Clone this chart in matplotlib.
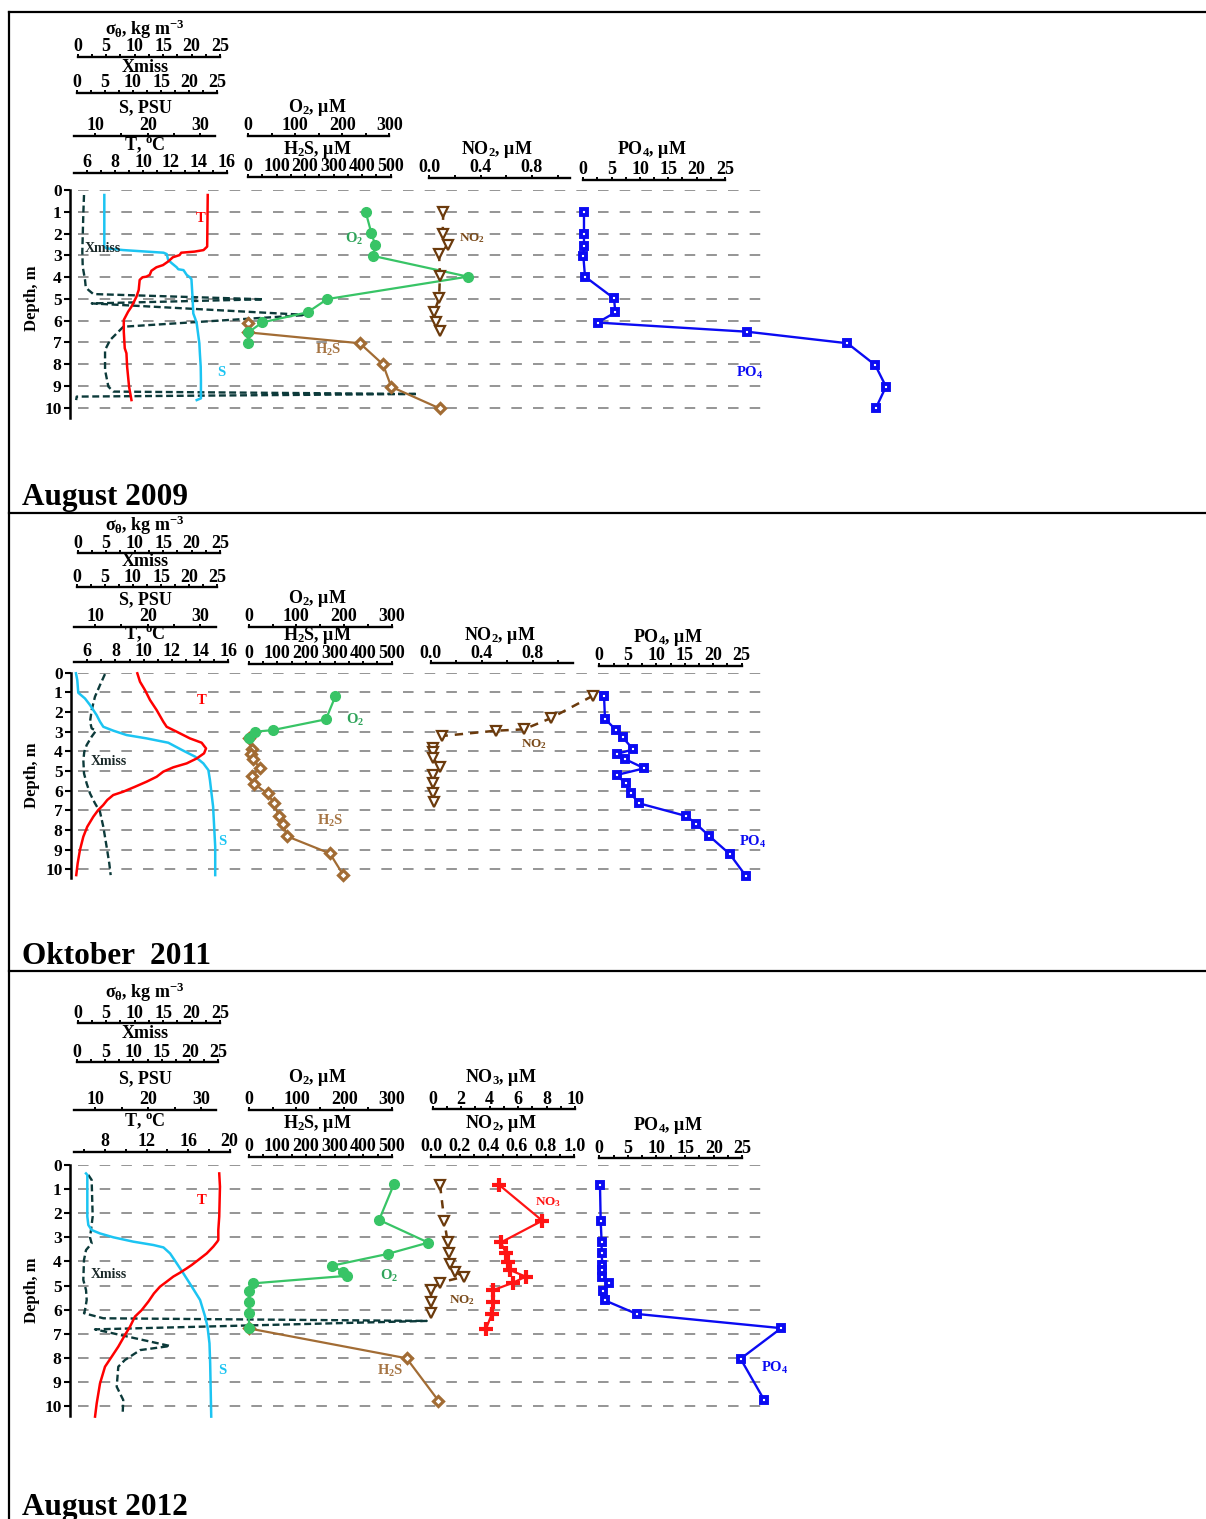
import matplotlib
matplotlib.use('Agg')
import matplotlib.pyplot as plt
import numpy as np

plt.rcParams['font.family'] = ['Liberation Serif', 'DejaVu Serif']
plt.rcParams['font.weight'] = 'bold'
plt.rcParams['mathtext.fontset'] = 'custom'
plt.rcParams['mathtext.rm'] = 'Liberation Serif:bold'
plt.rcParams['mathtext.it'] = 'Liberation Serif:bold'
plt.rcParams['mathtext.bf'] = 'Liberation Serif:bold'
plt.rcParams['mathtext.sf'] = 'Liberation Serif:bold'
plt.rcParams['lines.scale_dashes'] = False

# ---------------- DATA (depth in m, values in the units of each scale) ----------------
# August 2009
T1_depth = [0.23, 2.60, 2.76, 2.83, 2.88, 2.99, 3.09, 3.29, 3.45, 3.55, 3.71, 3.90, 3.98, 4.01,
            4.13, 4.59, 4.90, 5.21, 5.36, 5.59, 5.97, 6.51, 7.27, 7.50, 8.12, 9.04, 9.65]
T1_val = [14.64, 14.60, 14.34, 13.69, 12.74, 12.62, 12.14, 11.79, 11.43, 10.96, 10.60, 10.48, 10.24, 9.96,
          9.76, 9.69, 9.53, 9.29, 9.17, 8.93, 8.62, 8.62, 8.69, 8.81, 8.86, 9.00, 9.17]
S1_depth = [0.23, 2.60, 2.68, 2.76, 2.83, 2.88, 2.94, 3.22, 3.37, 3.55, 3.64, 3.68, 3.90, 4.01,
            4.10, 4.90, 5.67, 5.90, 6.13, 7.04, 7.50, 8.12, 8.73, 9.57, 9.65]
S1_val = [11.77, 11.77, 12.2, 15.4, 19.8, 23.0, 23.6, 23.9, 24.6, 25.5, 25.8, 26.8, 27.4, 28.0,
          28.3, 28.5, 28.65, 29.0, 29.3, 29.8, 29.9, 30.06, 30.1, 30.1, 29.3]
X1_depth = [0.23, 1.07, 2.83, 3.52, 4.13, 4.44, 4.59, 4.78, 5.02, 5.21, 5.74, 6.28, 6.89, 7.35,
            8.27, 9.03, 9.26, 9.37, 9.49, 9.65]
X1_val = [1.3, 1.18, 1.0, 1.07, 1.48, 1.6, 2.07, 2.96, 33.2, 2.67, 41.0, 8.3, 5.94, 5.04,
          5.04, 5.63, 6.52, 60.6, 0.0, -0.1]
O2_1_depth = [1.03, 1.99, 2.53, 3.03, 3.98, 5.01, 5.62, 6.08, 6.54, 7.04]
O2_1_val = [250, 262, 270, 266, 467, 168, 126, 30, 0, 0]
H2S_1_depth = [6.09, 6.54, 7.04, 8.01, 9.04, 10.03]
H2S_1_val = [0, 0, 392, 473, 502, 671]
NO2_1_depth = [0.99, 2.02, 2.53, 2.94, 3.94, 4.98, 5.59, 6.08, 6.48]
NO2_1_val = [0.109, 0.104, 0.143, 0.076, 0.083, 0.076, 0.039, 0.05, 0.083]
PO4_1_depth = [1.03, 2.02, 2.56, 3.02, 3.98, 4.98, 5.62, 6.09, 6.51, 7.04, 8.04, 9.03, 10.03]
PO4_1_val = [0.12, 0.12, 0.12, 0.0, 0.3, 5.42, 5.65, 2.54, 28.9, 46.6, 51.5, 53.4, 51.6]

# Oktober 2011
T2_depth = [0.03, 0.46, 0.88, 1.39, 1.90, 2.49, 2.75, 3.00, 3.34, 3.56, 3.85, 4.10, 4.36, 4.61, 4.81,
            5.03, 5.29, 5.54, 5.80, 6.05, 6.22, 6.47, 6.73, 6.98, 7.32, 7.83, 8.34, 9.02, 9.69, 10.29]
T2_val = [9.55, 9.74, 10.09, 10.45, 10.92, 11.39, 11.63, 12.34, 13.28, 14.11, 14.42, 14.28, 13.76, 13.05, 12.10,
          11.39, 10.92, 10.21, 9.38, 8.55, 7.84, 7.42, 7.13, 6.78, 6.43, 6.00, 5.72, 5.48, 5.32, 5.22]
S2_depth = [0.03, 0.37, 1.02, 1.31, 1.64, 2.15, 2.49, 2.75, 2.95, 3.17, 3.34, 3.56, 3.93, 4.27, 4.61,
            4.95, 5.46, 6.14, 6.81, 7.83, 8.85, 10.29]
S2_val = [6.39, 6.64, 6.83, 8.1, 9.05, 10.3, 10.95, 11.58, 13.5, 16.0, 19.8, 23.9, 26.5, 29.0, 30.55,
          31.5, 31.8, 32.1, 32.4, 32.6, 32.8, 32.8]
X2_depth = [0.07, 0.63, 1.22, 1.90, 2.49, 2.83, 2.95, 3.25, 3.68, 4.02, 4.44, 5.12, 5.63, 6.14, 6.64,
            7.07, 7.83, 8.85, 9.69, 10.29]
X2_val = [5.03, 4.14, 3.25, 2.66, 2.37, 2.66, 3.43, 2.66, 1.77, 1.35, 1.18, 1.3, 1.77, 2.37, 3.25,
          4.14, 4.73, 5.32, 5.79, 6.04]
O2_2_depth = [1.19, 2.37, 2.92, 3.0, 3.31]
O2_2_val = [182, 162, 50, 13, 0]
H2S_2_depth = [3.31, 3.9, 4.15, 4.41, 4.86, 5.24, 5.66, 6.14, 6.64, 7.27, 7.69, 8.31, 9.19, 10.29]
H2S_2_val = [0, 11, 7, 16, 40, 10, 20, 66, 88, 105, 121, 133, 284, 331]
NO2_2_depth = [1.18, 2.32, 2.88, 2.95, 3.22, 3.85, 4.05, 4.35, 4.78, 5.2, 5.59, 6.13, 6.56]
NO2_2_val = [1.27, 0.94, 0.73, 0.51, 0.086, 0.02, 0.02, 0.016, 0.073, 0.02, 0.016, 0.016, 0.028]
PO4_2_depth = [1.18, 2.35, 2.91, 3.29, 3.9, 4.13, 4.39, 4.86, 5.2, 5.62, 6.13, 6.64, 7.29, 7.69, 8.3,
               9.22, 10.32]
PO4_2_val = [0.83, 1.0, 2.93, 4.1, 5.97, 3.05, 4.5, 7.9, 3.05, 4.6, 5.5, 6.97, 15.3, 17.0, 19.3,
             22.9, 25.7]

# August 2012
T3_depth = [0.35, 0.9, 2.14, 2.7, 3.11, 3.18, 3.39, 3.67, 3.94, 4.15, 4.29, 4.47, 4.63, 4.84, 5.05,
            5.33, 5.67, 6.02, 6.29, 6.71, 7.05, 7.54, 7.95, 8.37, 9.06, 9.89, 10.44]
T3_val = [19.01, 19.08, 19.01, 18.92, 18.92, 18.82, 18.43, 17.8, 16.99, 16.35, 15.87, 15.22, 14.58, 13.94, 13.29,
          12.71, 12.17, 11.53, 10.88, 10.4, 9.92, 9.27, 8.64, 7.99, 7.51, 7.19, 7.03]
S3_depth = [0.35, 0.41, 2.14, 2.49, 2.7, 2.84, 3.0, 3.18, 3.32, 3.42, 3.67, 4.08, 4.5, 5.05, 5.6,
            6.29, 6.71, 7.4, 8.23, 10.44]
S3_val = [8.3, 8.55, 8.55, 8.74, 9.38, 10.94, 13.45, 17.2, 21.0, 22.9, 24.15, 25.4, 26.66, 28.25, 29.8,
          30.75, 31.2, 31.57, 31.7, 31.9]
X3_depth = [0.41, 0.62, 2.14, 2.7, 3.0, 3.25, 3.53, 3.94, 4.77, 5.19, 5.6, 6.02, 6.15, 6.36, 6.47,
            6.82, 7.51, 7.68, 8.09, 8.37, 9.2, 9.75, 10.3]
X3_val = [2.0, 2.6, 2.78, 2.48, 2.3, 2.6, 1.6, 1.24, 1.12, 1.6, 1.72, 1.42, 1.24, 4.66, 62.0,
          3.19, 16.5, 11.2, 8.5, 7.32, 7.04, 8.2, 8.1]
O2_3_depth = [0.8, 2.28, 3.22, 3.69, 4.18, 4.43, 4.6, 4.91, 5.21, 5.67, 6.15, 6.78]
O2_3_val = [304, 273, 376, 291, 174, 198, 205, 10, 0, 0, 0, 1]
H2S_3_depth = [6.78, 8.02, 9.78]
H2S_3_val = [0, 551, 662]
NO2_3_depth = [0.83, 2.31, 3.21, 3.67, 4.11, 4.45, 4.63, 4.88, 5.19, 5.67, 6.15]
NO2_3_val = [0.063, 0.093, 0.116, 0.128, 0.133, 0.167, 0.232, 0.063, 0.0, 0.0, 0.0]
NO3_3_depth = [0.83, 2.31, 3.21, 3.67, 4.02, 4.36, 4.63, 4.88, 5.19, 5.67, 6.18, 6.8]
NO3_3_val = [4.68, 7.7, 4.8, 5.15, 5.32, 5.43, 6.53, 5.67, 4.26, 4.26, 4.15, 3.75]
PO4_3_depth = [0.83, 2.31, 3.21, 3.67, 4.15, 4.36, 4.63, 4.91, 5.21, 5.62, 6.18, 6.77, 8.04, 9.76]
PO4_3_val = [0.12, 0.24, 0.41, 0.41, 0.53, 0.53, 0.53, 1.64, 0.7, 1.0, 6.53, 31.8, 24.7, 28.85]

PANEL_TITLES = ['August 2009', 'Oktober  2011', 'August 2012']
DEPTH_TICKS = list(range(0, 11))

# ---------------- STYLE ----------------
C_T = '#ff0000'
C_S = '#1cc4f2'
C_X = '#0c3a3a'
C_O2 = '#38c466'
C_H2S = '#a26c34'
C_NO2 = '#6b3a0c'
C_NO3 = '#ff1414'
C_PO4 = '#0b0bf2'

W, H = 1206, 1519
fig = plt.figure(figsize=(W / 100, H / 100), dpi=100)
fig.patch.set_facecolor('white')


def fx(x):
    return x / W


def fy(y):
    return 1 - y / H


# panel geometry in pixels: y of depth 0, pixels per metre, depth at bottom of spine, spine x
PANELS = [dict(y0=190.0, ppm=21.77, dmax=10.47, xs=70),
          dict(y0=672.7, ppm=19.67, dmax=10.46, xs=71),
          dict(y0=1165.0, ppm=24.1, dmax=10.43, xs=70)]
GRID_X0, GRID_X1 = 78, 762
TITLE_BASE = [505, 964, 1515]
DEPTH_LABEL_Y = [298, 775, 1290]

# border lines
bl = fig.add_axes([0, 0, 1, 1])
bl.set_xlim(0, W)
bl.set_ylim(H, 0)
bl.axis('off')
bl.plot([8.5, 8.5], [12, H], color='black', lw=1.6)
for yy in [12, 513, 971]:
    bl.plot([8.5, W], [yy, yy], color='black', lw=1.6)


def depth_frame(g):
    ybot = g['y0'] + g['dmax'] * g['ppm']
    ax = fig.add_axes([fx(g['xs']), fy(ybot), (GRID_X1 - g['xs']) / W, g['dmax'] * g['ppm'] / H])
    ax.set_xlim(g['xs'], GRID_X1)
    ax.set_ylim(g['dmax'], 0)
    ax.patch.set_visible(False)
    for s in ['top', 'right', 'bottom']:
        ax.spines[s].set_visible(False)
    ax.spines['left'].set_linewidth(1.8)
    ax.set_xticks([])
    ax.set_yticks(DEPTH_TICKS)
    ax.tick_params(axis='y', direction='out', length=4, width=1.5, pad=2, labelsize=12.5)
    for d in DEPTH_TICKS:
        ax.plot([GRID_X0, GRID_X1], [d, d], color='#8c8c8c', lw=1.3, dashes=(7.6, 8.0), zorder=1)
    return ax


def scale_axis(x0, x1, y, v0, v1, majors, minors, labels):
    ax = fig.add_axes([fx(x0), fy(y) - 0.0001, (x1 - x0) / W, 0.0001])
    ax.set_xlim(v0, v1)
    ax.set_ylim(0, 1)
    for s in ['left', 'right', 'bottom']:
        ax.spines[s].set_visible(False)
    ax.spines['top'].set_linewidth(1.7)
    ax.patch.set_visible(False)
    ax.yaxis.set_visible(False)
    ax.set_xticks(majors)
    ax.set_xticklabels(labels)
    ax.set_xticks(minors, minor=True)
    ax.tick_params(axis='x', which='both', bottom=False, labelbottom=False, top=True, labeltop=True,
                   direction='out', length=2.3, width=1.4, pad=-1.2, labelsize=13)
    return ax


def data_axis(g, x0, x1, v0, v1):
    ybot = g['y0'] + g['dmax'] * g['ppm']
    ax = fig.add_axes([fx(x0), fy(ybot), (x1 - x0) / W, g['dmax'] * g['ppm'] / H])
    ax.set_xlim(v0, v1)
    ax.set_ylim(g['dmax'], 0)
    ax.axis('off')
    ax.patch.set_visible(False)
    return ax


def title(txt, x, y, size=13):
    fig.text(fx(x), fy(y), txt, ha='center', va='center', fontsize=size, fontweight='bold')


def label(txt, x, y, color, size=10.5):
    fig.text(fx(x), fy(y), txt, ha='center', va='center', fontsize=size, fontweight='bold', color=color)


def fmt(vals, f):
    return [f.format(v) for v in vals]


SIG_MAJ = [0, 5, 10, 15, 20, 25]
SIG_MIN = [2.5, 7.5, 12.5, 17.5, 22.5]
S_MAJ = [10, 20, 30]
S_MIN = [15, 25]
O2_MAJ = [0, 100, 200, 300]
O2_MIN = [50, 150, 250]
H2S_MAJ = [0, 100, 200, 300, 400, 500]
H2S_MIN = [50, 150, 250, 350, 450]
PO4_MAJ = [0, 5, 10, 15, 20, 25]
PO4_MIN = [2.5, 7.5, 12.5, 17.5, 22.5]

# per panel: scale layouts (x0, x1, y_line, v0, v1) and title positions
LAYOUT = [
    dict(sig=(77.7, 220, 56.7, 0, 25, (145, 29)), xm=(76.7, 217.3, 93, 0, 25, (145, 67)),
         s=(74, 215, 136, 6.02, 32.77, (145, 108)), o2=(248.3, 389.3, 136, 0, 300, (317, 107)),
         t=(74, 226.7, 173, 5.05, 16.0, (145, 145)), h2s=(248, 390.7, 176.7, 0, 500, (317, 149)),
         no2=(429.3, 570, 177.7, 0, 1.097, (497, 149)), po4=(583.3, 725, 180, 0, 25, (652, 150))),
    dict(sig=(77.7, 220, 553.3, 0, 25, (145, 525)), xm=(76.7, 217.3, 587.3, 0, 25, (145, 562)),
         s=(74, 216, 626.7, 6.02, 32.95, (145, 600)), o2=(248.7, 391.7, 626.7, 0, 300, (317, 599)),
         t=(74, 228.3, 661.7, 5.06, 16.0, (145, 634)), h2s=(248.7, 391.7, 664, 0, 500, (317, 636)),
         no2=(430.7, 572.7, 663.3, 0, 1.114, (500, 635)), po4=(599.3, 741.7, 666, 0, 25, (668, 638))),
    dict(sig=(77.7, 220, 1023.3, 0, 25, (145, 992)), xm=(77, 218, 1062.3, 0, 25, (145, 1034)),
         s=(74, 216, 1110, 6.04, 32.8, (145, 1079)), o2=(248.7, 392, 1110, 0, 300, (317, 1078)),
         no3=(432.7, 575, 1109.3, 0, 10, (501, 1077)),
         t=(74, 229.5, 1151.7, 5.0, 20.0, (145, 1121)), h2s=(248.7, 392, 1156.7, 0, 500, (317, 1124)),
         no2=(431, 574.3, 1156.7, 0, 1.0, (501, 1124)), po4=(599.3, 742.3, 1158.3, 0, 25, (668, 1126))),
]

DATA = [
    dict(T=(T1_depth, T1_val), S=(S1_depth, S1_val), X=(X1_depth, X1_val), O2=(O2_1_depth, O2_1_val),
         H2S=(H2S_1_depth, H2S_1_val), NO2=(NO2_1_depth, NO2_1_val), PO4=(PO4_1_depth, PO4_1_val)),
    dict(T=(T2_depth, T2_val), S=(S2_depth, S2_val), X=(X2_depth, X2_val), O2=(O2_2_depth, O2_2_val),
         H2S=(H2S_2_depth, H2S_2_val), NO2=(NO2_2_depth, NO2_2_val), PO4=(PO4_2_depth, PO4_2_val)),
    dict(T=(T3_depth, T3_val), S=(S3_depth, S3_val), X=(X3_depth, X3_val), O2=(O2_3_depth, O2_3_val),
         H2S=(H2S_3_depth, H2S_3_val), NO2=(NO2_3_depth, NO2_3_val), PO4=(PO4_3_depth, PO4_3_val),
         NO3=(NO3_3_depth, NO3_3_val)),
]

LABELS = [
    dict(T=(201, 218), O2=(354, 239), NO2=(472, 238), X=(103, 249), H2S=(328, 350), S=(221, 372), PO4=(750, 373)),
    dict(T=(202, 701), O2=(355, 720), NO2=(534, 744), X=(109, 761), H2S=(330, 821), S=(222, 841), PO4=(753, 842)),
    dict(T=(202, 1201), O2=(389, 1276), NO2=(462, 1300), X=(109, 1274), H2S=(390, 1371), S=(222, 1371),
         PO4=(775, 1368), NO3=(548, 1202)),
]

for p in range(3):
    g = PANELS[p]
    L = LAYOUT[p]
    D = DATA[p]
    depth_frame(g)

    # scales
    x0, x1, y, v0, v1, tp = L['sig']
    scale_axis(x0, x1, y, v0, v1, SIG_MAJ, SIG_MIN, fmt(SIG_MAJ, '{}'))
    title(r'$\sigma_{\theta}$, kg m$^{-3}$', *tp)
    x0, x1, y, v0, v1, tp = L['xm']
    scale_axis(x0, x1, y, v0, v1, SIG_MAJ, SIG_MIN, fmt(SIG_MAJ, '{}'))
    title('Xmiss', *tp)
    x0, x1, y, v0, v1, tp = L['s']
    scale_axis(x0, x1, y, v0, v1, S_MAJ, S_MIN, fmt(S_MAJ, '{}'))
    title('S, PSU', *tp)
    x0, x1, y, v0, v1, tp = L['o2']
    scale_axis(x0, x1, y, v0, v1, O2_MAJ, O2_MIN, fmt(O2_MAJ, '{}'))
    title(r'O$_2$, μM', *tp)
    x0, x1, y, v0, v1, tp = L['t']
    if p < 2:
        tmaj = [6, 8, 10, 12, 14, 16]
        tmin = [7, 9, 11, 13, 15]
    else:
        tmaj = [8, 12, 16, 20]
        tmin = [6, 10, 14, 18]
    scale_axis(x0, x1, y, v0, v1, tmaj, tmin, fmt(tmaj, '{}'))
    title(r'T, $^{o}$C', *tp)
    x0, x1, y, v0, v1, tp = L['h2s']
    scale_axis(x0, x1, y, v0, v1, H2S_MAJ, H2S_MIN, fmt(H2S_MAJ, '{}'))
    title(r'H$_2$S, μM', *tp)
    x0, x1, y, v0, v1, tp = L['no2']
    if p < 2:
        nmaj = [0.0, 0.4, 0.8]
        nmin = [0.2, 0.6, 1.0]
    else:
        nmaj = [0.0, 0.2, 0.4, 0.6, 0.8, 1.0]
        nmin = [0.1, 0.3, 0.5, 0.7, 0.9]
    scale_axis(x0, x1, y, v0, v1, nmaj, nmin, fmt(nmaj, '{:.1f}'))
    title(r'NO$_2$, μM', *tp)
    x0, x1, y, v0, v1, tp = L['po4']
    scale_axis(x0, x1, y, v0, v1, PO4_MAJ, PO4_MIN, fmt(PO4_MAJ, '{}'))
    title(r'PO$_4$, μM', *tp)
    if 'no3' in L:
        x0, x1, y, v0, v1, tp = L['no3']
        maj = [0, 2, 4, 6, 8, 10]
        scale_axis(x0, x1, y, v0, v1, maj, [1, 3, 5, 7, 9], fmt(maj, '{}'))
        title(r'NO$_3$, μM', *tp)

    # data
    ax = data_axis(g, *L['xm'][:2], *L['xm'][3:5])
    ax.plot(D['X'][1], D['X'][0], color=C_X, lw=1.7, dashes=(5.0, 2.6), clip_on=False)
    ax = data_axis(g, *L['s'][:2], *L['s'][3:5])
    ax.plot(D['S'][1], D['S'][0], color=C_S, lw=1.8, clip_on=False)
    ax = data_axis(g, *L['t'][:2], *L['t'][3:5])
    ax.plot(D['T'][1], D['T'][0], color=C_T, lw=1.8, clip_on=False)
    ax = data_axis(g, *L['h2s'][:2], *L['h2s'][3:5])
    ax.plot(D['H2S'][1], D['H2S'][0], color=C_H2S, lw=1.6, marker='D', ms=5.5, mfc='white',
            mec=C_H2S, mew=2.3, clip_on=False)
    ax = data_axis(g, *L['o2'][:2], *L['o2'][3:5])
    ax.plot(D['O2'][1], D['O2'][0], color=C_O2, lw=1.6, marker='o', ms=7, mfc=C_O2, mec=C_O2,
            clip_on=False)
    ax = data_axis(g, *L['no2'][:2], *L['no2'][3:5])
    ax.plot(D['NO2'][1], D['NO2'][0], color=C_NO2, lw=1.8, dashes=(6, 5), marker='v', ms=7,
            mfc='white', mec=C_NO2, mew=1.6, clip_on=False)
    if 'NO3' in D:
        ax = data_axis(g, *L['no3'][:2], *L['no3'][3:5])
        ax.plot(D['NO3'][1], D['NO3'][0], color=C_NO3, lw=1.6, marker='+', ms=10, mew=3.0,
                clip_on=False)
    ax = data_axis(g, *L['po4'][:2], *L['po4'][3:5])
    ax.plot(D['PO4'][1], D['PO4'][0], color=C_PO4, lw=1.7, marker='s', ms=5, mfc='white',
            mec=C_PO4, mew=2.8, clip_on=False)

    # in-plot labels
    LB = LABELS[p]
    label('T', *LB['T'], C_T)
    label(r'O$_2$', *LB['O2'], '#2fa35a')
    label(r'NO$_2$', *LB['NO2'], '#7a4a1a', size=9.5)
    label('Xmiss', *LB['X'], '#1c2a2a', size=10)
    label(r'H$_2$S', *LB['H2S'], '#a57443')
    label('S', *LB['S'], C_S)
    label(r'PO$_4$', *LB['PO4'], C_PO4)
    if 'NO3' in LB:
        label(r'NO$_3$', *LB['NO3'], C_NO3, size=9.5)

    fig.text(fx(32), fy(DEPTH_LABEL_Y[p]), 'Depth, m', rotation=90, ha='center', va='center',
             fontsize=12, fontweight='bold')
    fig.text(fx(22), fy(TITLE_BASE[p]), PANEL_TITLES[p], ha='left', va='baseline',
             fontsize=22.5, fontweight='bold')

fig.savefig('out.png', dpi=100, facecolor='white')
